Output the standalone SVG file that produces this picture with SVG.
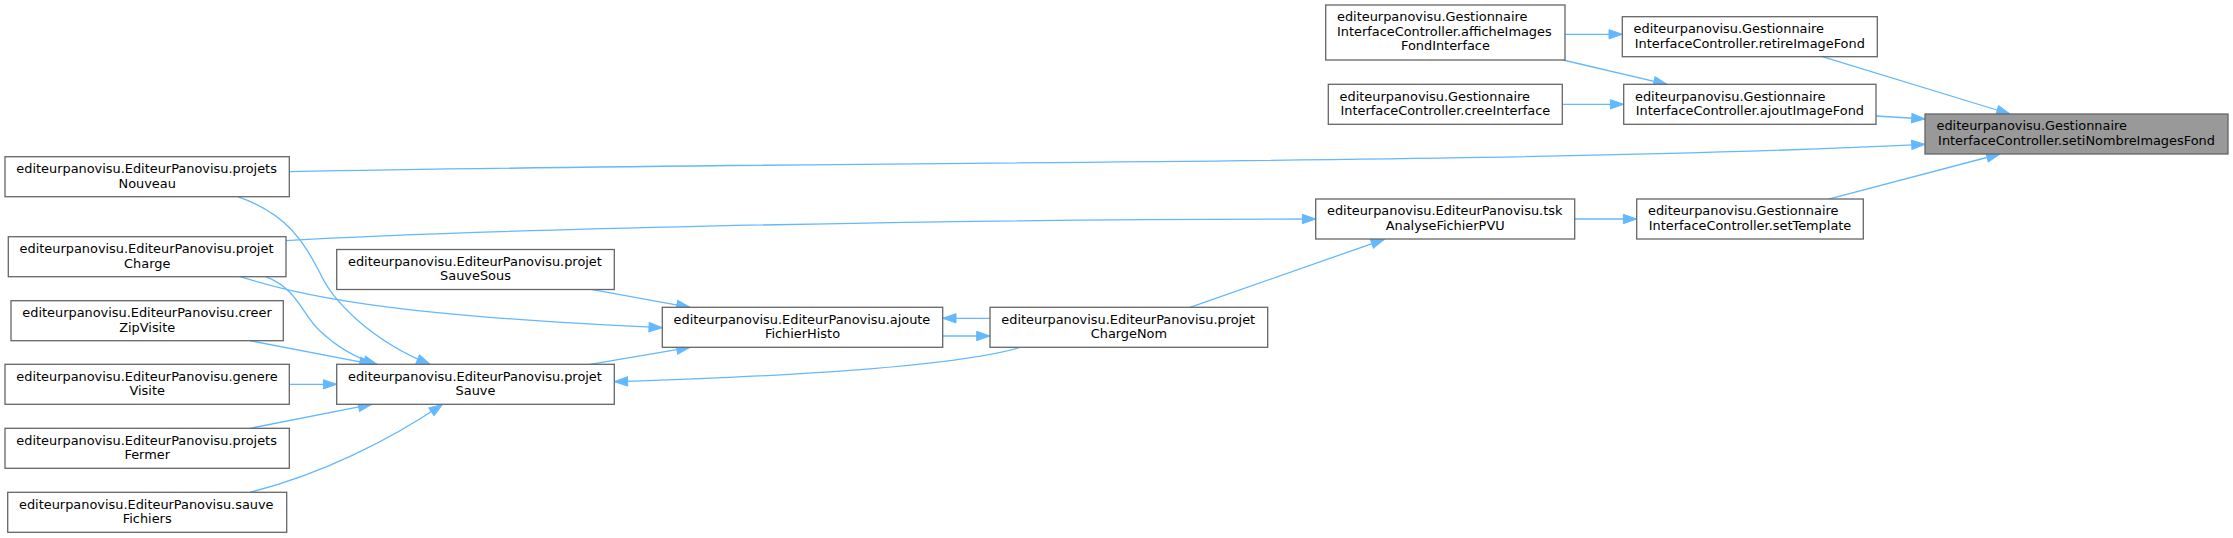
<svg xmlns="http://www.w3.org/2000/svg" width="2233" height="538" viewBox="0 0 2233 538">
<style>
.node rect{fill:#ffffff;stroke:#666666;stroke-width:1.3}
.node.cur rect{fill:#999999}
.node text{font-family:"DejaVu Sans","Liberation Sans",sans-serif;font-size:12.9px;fill:#000000}
.node text.c{text-anchor:middle}
.edge path{fill:none;stroke:#63b8ff;stroke-width:1.3;marker-end:url(#arr)}
</style>
<defs>
<marker id="arr" markerUnits="userSpaceOnUse" viewBox="0 0 15 11" markerWidth="15" markerHeight="11" refX="13.3" refY="5" orient="auto" overflow="visible">
<path d="M0,0.35 L13.3,5 L0,9.65 z" fill="#63b8ff" stroke="#63b8ff" stroke-width="1"/>
</marker>
</defs>
<rect width="2233" height="538" fill="#ffffff"/>
<g id="edges" class="edge">
<path d="M1565,34.3 L1622.3,34.3"/>
<path d="M1563,60 L1667,84.3"/>
<path d="M1562.3,104.3 L1623.7,104.3"/>
<path d="M1822.3,56.7 L2010,114"/>
<path d="M1876,116 L1925,119"/>
<path d="M289.3,171.7 C900,160 1500,165 1925,144.3"/>
<path d="M1827.7,199.3 L2000,154"/>
<path d="M1574.7,219 L1636.7,219"/>
<path d="M286,240.7 C450,231 900,219 1315.7,219"/>
<path d="M1190,307.3 L1384.4,239.3"/>
<path d="M990,318.3 L942.7,318.3"/>
<path d="M942.7,336 L990,336"/>
<path d="M1020,347.5 C960,365 800,376 614.3,381.7"/>
<path d="M591,289.3 L690,307.3"/>
<path d="M240,276.7 C300,295 380,315 662.3,327.7"/>
<path d="M590,364.3 L690,347.3"/>
<path d="M265.7,276.7 C298,289 302,315 320,331 C335,345 352,357 377,364.3"/>
<path d="M237.7,196.7 C290,215 305,245 320,273 C332,300 370,340 430,364.3"/>
<path d="M250,340.7 L373,364.3"/>
<path d="M289.3,384.3 L336.7,384.3"/>
<path d="M250,428.3 L371.7,404.3"/>
<path d="M250,492.3 C320,475 390,440 442.5,404.3"/>
</g>
<g id="n_seti" class="node cur">
<rect x="1925" y="114" width="303" height="40"/>
<text x="1936.5" y="130.3">editeurpanovisu.Gestionnaire</text>
<text class="c" x="2076.5" y="144.8">InterfaceController.setiNombreImagesFond</text>
</g>
<g id="n_retire" class="node">
<rect x="1622.3" y="16.7" width="255" height="40"/>
<text x="1633.6" y="33">editeurpanovisu.Gestionnaire</text>
<text class="c" x="1749.8" y="47.5">InterfaceController.retireImageFond</text>
</g>
<g id="n_ajout" class="node">
<rect x="1623.7" y="84.3" width="252.3" height="40"/>
<text x="1635" y="100.6">editeurpanovisu.Gestionnaire</text>
<text class="c" x="1749.9" y="115.1">InterfaceController.ajoutImageFond</text>
</g>
<g id="n_affiche" class="node">
<rect x="1325.7" y="5" width="239.3" height="55"/>
<text x="1337" y="21.3">editeurpanovisu.Gestionnaire</text>
<text x="1337" y="35.8">InterfaceController.afficheImages</text>
<text class="c" x="1445.4" y="50.3">FondInterface</text>
</g>
<g id="n_cree" class="node">
<rect x="1328.3" y="84.3" width="234" height="40"/>
<text x="1339.6" y="100.6">editeurpanovisu.Gestionnaire</text>
<text class="c" x="1445.3" y="115.1">InterfaceController.creeInterface</text>
</g>
<g id="n_tsk" class="node">
<rect x="1315.7" y="199" width="259" height="40"/>
<text x="1327" y="215.3">editeurpanovisu.EditeurPanovisu.tsk</text>
<text class="c" x="1445.2" y="229.8">AnalyseFichierPVU</text>
</g>
<g id="n_settemplate" class="node">
<rect x="1636.7" y="199" width="226.6" height="40"/>
<text x="1648" y="215.3">editeurpanovisu.Gestionnaire</text>
<text class="c" x="1750" y="229.8">InterfaceController.setTemplate</text>
</g>
<g id="n_projetsnouveau" class="node">
<rect x="5" y="156.7" width="284.3" height="40"/>
<text x="16.3" y="173">editeurpanovisu.EditeurPanovisu.projets</text>
<text class="c" x="147.2" y="187.5">Nouveau</text>
</g>
<g id="n_projetcharge" class="node">
<rect x="8.3" y="236.7" width="277.7" height="40"/>
<text x="19.6" y="253">editeurpanovisu.EditeurPanovisu.projet</text>
<text class="c" x="147.2" y="267.5">Charge</text>
</g>
<g id="n_projetsauvesous" class="node">
<rect x="336.7" y="249.5" width="277.6" height="40"/>
<text x="348" y="265.8">editeurpanovisu.EditeurPanovisu.projet</text>
<text class="c" x="475.5" y="280.3">SauveSous</text>
</g>
<g id="n_creerzip" class="node">
<rect x="11" y="300.7" width="272.3" height="40"/>
<text x="22.3" y="317">editeurpanovisu.EditeurPanovisu.creer</text>
<text class="c" x="147.2" y="331.5">ZipVisite</text>
</g>
<g id="n_genere" class="node">
<rect x="5" y="364.3" width="284.3" height="40"/>
<text x="16.3" y="380.6">editeurpanovisu.EditeurPanovisu.genere</text>
<text class="c" x="147.2" y="395.1">Visite</text>
</g>
<g id="n_projetsauve" class="node">
<rect x="336.7" y="364.3" width="277.6" height="40"/>
<text x="348" y="380.6">editeurpanovisu.EditeurPanovisu.projet</text>
<text class="c" x="475.5" y="395.1">Sauve</text>
</g>
<g id="n_projetsfermer" class="node">
<rect x="5" y="428.3" width="284.3" height="40"/>
<text x="16.3" y="444.6">editeurpanovisu.EditeurPanovisu.projets</text>
<text class="c" x="147.2" y="459.1">Fermer</text>
</g>
<g id="n_sauvefichiers" class="node">
<rect x="7.7" y="492.3" width="279" height="40"/>
<text x="19" y="508.6">editeurpanovisu.EditeurPanovisu.sauve</text>
<text class="c" x="147.2" y="523.1">Fichiers</text>
</g>
<g id="n_ajoute" class="node">
<rect x="662.3" y="307.3" width="280.4" height="40"/>
<text x="673.6" y="323.6">editeurpanovisu.EditeurPanovisu.ajoute</text>
<text class="c" x="802.5" y="338.1">FichierHisto</text>
</g>
<g id="n_chargenom" class="node">
<rect x="990" y="307.3" width="277.7" height="40"/>
<text x="1001.3" y="323.6">editeurpanovisu.EditeurPanovisu.projet</text>
<text class="c" x="1128.9" y="338.1">ChargeNom</text>
</g>
</svg>
